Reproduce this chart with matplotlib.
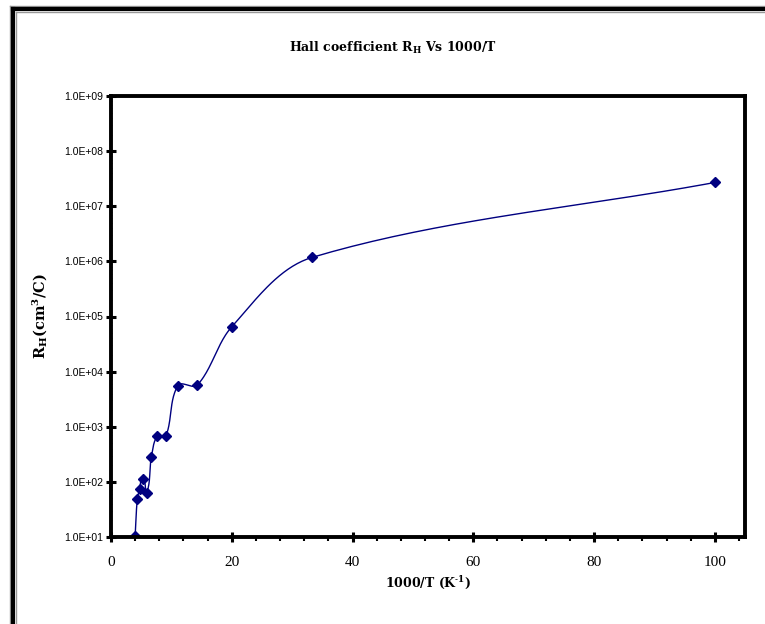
import numpy as np
import matplotlib.pyplot as plt
from matplotlib.lines import Line2D
from matplotlib.ticker import LogLocator, MultipleLocator, NullFormatter

# 1000/T (K^-1) and Hall coefficient R_H (cm^3/C)
inv_t = [4.0, 4.35, 4.76, 5.26, 5.88, 6.67, 7.69, 9.09, 11.1, 14.3, 20.0, 33.3, 100.0]
r_h = [10.5, 48, 75, 115, 62, 280, 690, 680, 5600, 5700, 6.5e4, 1.18e6, 2.7e7]

y_ticks = [1e1, 1e2, 1e3, 1e4, 1e5, 1e6, 1e7, 1e8, 1e9]
y_labels = ['1.0E+01', '1.0E+02', '1.0E+03', '1.0E+04', '1.0E+05',
            '1.0E+06', '1.0E+07', '1.0E+08', '1.0E+09']
x_ticks = [0, 20, 40, 60, 80, 100]

W, H = 765, 624
AX_W, AX_H = 634, 441
X_MAX, Y_MIN, Y_MAX = 105, 1e1, 1e9


def smooth(xs, ys, n=40, k=0.33):
    # bezier spline drawn in screen space: tangent follows the neighbours,
    # handle length follows the segment length
    sx = AX_W / X_MAX
    sy = AX_H / (np.log10(Y_MAX) - np.log10(Y_MIN))
    p = np.column_stack([np.asarray(xs) * sx, np.log10(ys) * sy])
    m = len(p)
    tang = np.zeros_like(p)
    for i in range(m):
        a = p[max(i - 1, 0)]
        b = p[min(i + 1, m - 1)]
        d = b - a
        tang[i] = d / np.hypot(*d)
    t = np.linspace(0, 1, n)[:, None]
    out = []
    for i in range(m - 1):
        b0, b3 = p[i], p[i + 1]
        L = np.hypot(*(b3 - b0))
        b1 = b0 + tang[i] * L * k
        b2 = b3 - tang[i + 1] * L * k
        out.append((1 - t) ** 3 * b0 + 3 * (1 - t) ** 2 * t * b1
                   + 3 * (1 - t) * t ** 2 * b2 + t ** 3 * b3)
    out = np.vstack(out)
    return out[:, 0] / sx, 10 ** (out[:, 1] / sy)


plt.rcParams['mathtext.fontset'] = 'dejavuserif'
fig = plt.figure(figsize=(W / 100, H / 100), dpi=100)
ax = fig.add_axes([111 / W, 1 - 537 / H, AX_W / W, AX_H / H])

navy = '#000080'
cx, cy = smooth(inv_t, r_h)
ax.plot(cx, cy, color=navy, lw=1.0)
ax.plot(inv_t, r_h, ls='none', marker='D', ms=5, color=navy)

ax.set_yscale('log')
ax.set_xlim(0, X_MAX)
ax.set_ylim(Y_MIN, Y_MAX)

ax.set_xticks(x_ticks)
ax.xaxis.set_minor_locator(MultipleLocator(4))
ax.set_yticks(y_ticks)
ax.set_yticklabels(y_labels)
ax.yaxis.set_minor_locator(LogLocator(base=10, subs=np.arange(2, 10), numticks=20))
ax.yaxis.set_minor_formatter(NullFormatter())

for s in ax.spines.values():
    s.set_linewidth(2.8)
    s.set_color('black')

ax.tick_params(axis='both', which='major', direction='inout', length=7, width=2.2)
ax.tick_params(axis='x', which='minor', direction='out', length=3, width=1.5)
ax.tick_params(axis='y', which='minor', direction='inout', length=2, width=0.8, color='#666666')

for lbl in ax.get_xticklabels():
    lbl.set_fontfamily('Liberation Serif')
    lbl.set_fontsize(11)
for lbl in ax.get_yticklabels():
    lbl.set_fontfamily('Liberation Sans')
    lbl.set_fontsize(7.5)
ax.tick_params(axis='x', pad=10)
ax.tick_params(axis='y', pad=2)

fig.text(0.514, 1 - 48 / H, r'Hall coefficient R$_\mathbf{H}$ Vs 1000/T',
         ha='center', va='center', fontsize=9, fontweight='bold',
         family='DejaVu Serif')
ax.set_xlabel('1000/T (K$^{\u2010\\mathbf{1}}$)', fontsize=9, fontweight='bold',
              family='DejaVu Serif', labelpad=4)
ax.set_ylabel(r'R$_\mathbf{H}$(cm$^\mathbf{3}$/C)', fontsize=10.5,
              fontweight='bold', family='DejaVu Serif', labelpad=10)

# frame along the left and top edges
for off, col, lw in [(10, '#999999', 1.0), (13, 'black', 3.0), (16, '#999999', 1.0)]:
    fig.add_artist(Line2D([off / W, off / W], [0, 1 - (off - 4) / H],
                          transform=fig.transFigure, color=col, lw=lw))
    fig.add_artist(Line2D([off / W, 1], [1 - (off - 4) / H, 1 - (off - 4) / H],
                          transform=fig.transFigure, color=col, lw=lw))

fig.savefig('out.png', dpi=100)
